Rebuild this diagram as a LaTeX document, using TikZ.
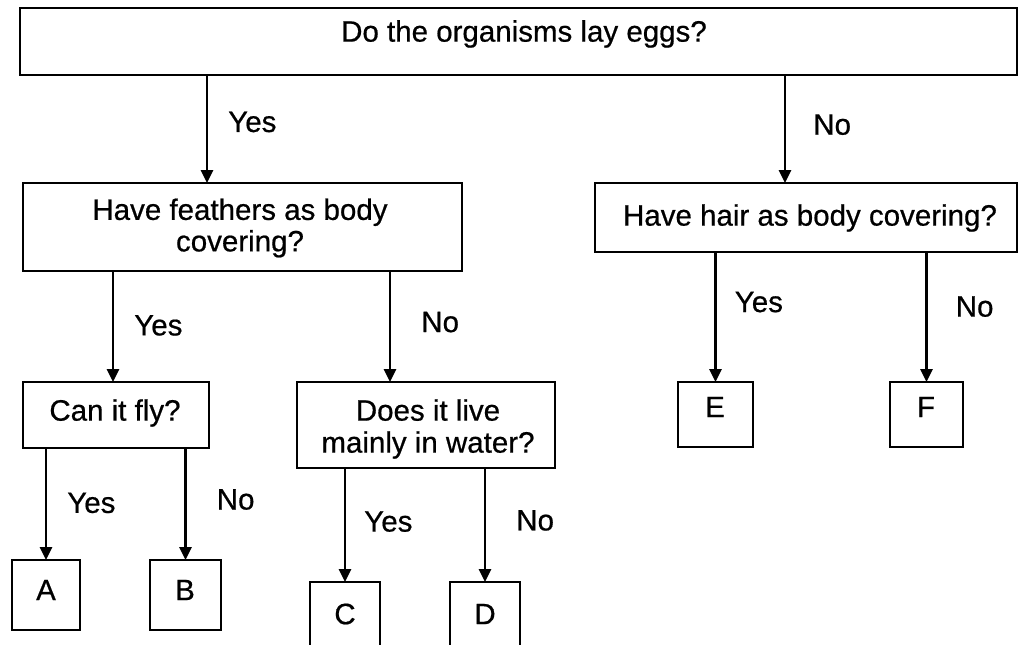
\documentclass[tikz,border=0pt]{standalone}
\usepackage{fontspec}
\setmainfont{Liberation Sans}
\newfontfamily\heavyfont[FakeBold=0.6]{Liberation Sans}
\usetikzlibrary{arrows.meta}
\begin{document}
\begin{tikzpicture}[x=1pt,y=-1pt,
  box/.style={draw, line width=2.2pt, inner sep=0pt, outer sep=0pt},
  txt/.style={inner sep=0pt, align=center, font=\heavyfont\fontsize{29.5}{31.5}\selectfont},
  arr/.style={line width=2.6pt, -{Triangle[width=12pt,length=13pt]}},
  lab/.style={inner sep=0pt, anchor=west, font=\heavyfont\fontsize{29.5}{31.5}\selectfont}]
\useasboundingbox (0,0) rectangle (1020,645);
\clip (0,0) rectangle (1020,645);
% boxes
\node[box, minimum width=997pt, minimum height=67pt] (top) at (518.5,41.5) {};
\node[box, minimum width=439pt, minimum height=88pt] (feathers) at (242.5,227) {};
\node[box, minimum width=422pt, minimum height=69pt] (hair) at (806,217.5) {};
\node[box, minimum width=186pt, minimum height=66pt] (canfly) at (116,415) {};
\node[box, minimum width=258pt, minimum height=86pt] (does) at (426,425) {};
\node[box, minimum width=75pt, minimum height=65pt] (boxE) at (715.5,414.5) {};
\node[box, minimum width=73pt, minimum height=65pt] (boxF) at (926.5,414.5) {};
\node[box, minimum width=68pt, minimum height=70pt] (boxA) at (46,595) {};
\node[box, minimum width=71pt, minimum height=70pt] (boxB) at (185.5,595) {};
\node[box, minimum width=70pt, minimum height=98pt] (boxC) at (345,631) {};
\node[box, minimum width=70pt, minimum height=98pt] (boxD) at (485,631) {};
% texts
\node[txt] (ttop) at (524,34) {Do the organisms lay eggs?};
\node[txt] (tfeathers) at (240,228) {Have feathers as body\\covering?};
\node[txt] (thair) at (810,218) {Have hair as body covering?};
\node[txt] (tcanfly) at (115,413) {Can it fly?};
\node[txt, font=\heavyfont\fontsize{29.5}{32}\selectfont] (tdoes) at (428,429) {Does it live\\mainly in water?};
\node[txt] (tA) at (46,590) {A};
\node[txt] (tB) at (185,590) {B};
\node[txt] (tC) at (345,614) {C};
\node[txt] (tD) at (485,614) {D};
\node[txt] (tE) at (715,407) {E};
\node[txt] (tF) at (926,407) {F};
% arrow end points
\path (feathers.north) ++(-35.5,0) coordinate (a1e);
\path (hair.north) ++(-21,0) coordinate (a2e);
\path (does.north) ++(-36,0) coordinate (a4e);
% connectors
\draw[arr] (top.south -| a1e) -- node[lab, pos=0.435, xshift=20pt] (l1) {Yes} (a1e);
\draw[arr] (top.south -| a2e) -- node[lab, pos=0.46, xshift=27pt] (l2) {No} (a2e);
\draw[arr] (feathers.south -| canfly.north) ++(-3,0) coordinate (a3s) (a3s) -- node[lab, pos=0.49, xshift=20pt] (l3) {Yes} (a3s |- canfly.north);
\draw[arr] (feathers.south -| a4e) -- node[lab, pos=0.46, xshift=30pt] (l4) {No} (a4e);
\draw[arr] (hair.south -| boxE.north) -- node[lab, pos=0.385, xshift=18pt] (l5) {Yes} (boxE.north);
\draw[arr] (hair.south -| boxF.north) -- node[lab, pos=0.42, xshift=28pt] (l6) {No} (boxF.north);
\draw[arr] (canfly.south -| boxA.north) -- node[lab, pos=0.49, xshift=20pt] (l7) {Yes} (boxA.north);
\draw[arr] (canfly.south -| boxB.north) -- node[lab, pos=0.46, xshift=30pt] (l8) {No} (boxB.north);
\draw[arr] (does.south -| boxC.north) -- node[lab, pos=0.47, xshift=18pt] (l9) {Yes} (boxC.north);
\draw[arr] (does.south -| boxD.north) -- node[lab, pos=0.46, xshift=30pt] (l10) {No} (boxD.north);
\end{tikzpicture}
\end{document}
